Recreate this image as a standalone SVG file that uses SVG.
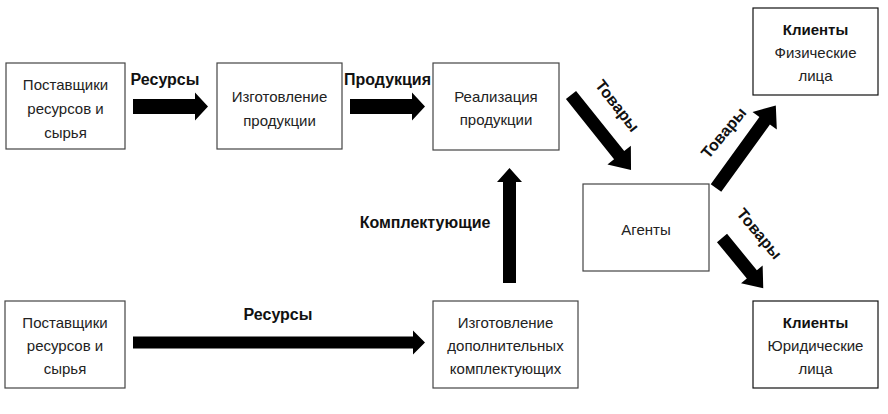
<svg xmlns="http://www.w3.org/2000/svg" width="888" height="414" viewBox="0 0 888 414">
<style>
.box{fill:#fff;stroke:#444;stroke-width:1.2}
.t{font-family:"Liberation Sans",Arial,sans-serif;font-size:15px;fill:#222;text-anchor:middle}
.b{font-family:"Liberation Sans",Arial,sans-serif;font-size:16px;font-weight:bold;fill:#111;text-anchor:middle}
.bb{font-weight:bold;fill:#111}
.ar{fill:#000}
</style>
<rect width="888" height="414" fill="#fff"/>
<g id="supplier1">
<rect class="box" x="6" y="63" width="119" height="86"/>
<text class="t" x="65.5" y="90">Поставщики</text>
<text class="t" x="65.5" y="114">ресурсов и</text>
<text class="t" x="65.5" y="138">сырья</text>
</g>
<g id="production">
<rect class="box" x="217" y="63" width="125" height="86"/>
<text class="t" x="279.5" y="102">Изготовление</text>
<text class="t" x="279.5" y="126">продукции</text>
</g>
<g id="sales">
<rect class="box" x="433" y="63" width="126" height="87"/>
<text class="t" x="496" y="102">Реализация</text>
<text class="t" x="496" y="125">продукции</text>
</g>
<g id="clients-phys">
<rect class="box" x="753" y="8" width="125" height="87" style="stroke:#111"/>
<text class="t bb" x="815.5" y="35">Клиенты</text>
<text class="t" x="815.5" y="58">Физические</text>
<text class="t" x="815.5" y="81">лица</text>
</g>
<g id="agents">
<rect class="box" x="583" y="184" width="126" height="87"/>
<text class="t" x="646" y="235">Агенты</text>
</g>
<g id="clients-jur">
<rect class="box" x="753" y="301" width="125" height="87" style="stroke:#111"/>
<text class="t bb" x="815.5" y="328">Клиенты</text>
<text class="t" x="815.5" y="351">Юридические</text>
<text class="t" x="815.5" y="374">лица</text>
</g>
<g id="supplier2">
<rect class="box" x="5" y="301" width="120" height="87"/>
<text class="t" x="65" y="328">Поставщики</text>
<text class="t" x="65" y="351">ресурсов и</text>
<text class="t" x="65" y="374">сырья</text>
</g>
<g id="components">
<rect class="box" x="433" y="301" width="145" height="87"/>
<text class="t" x="505.5" y="328">Изготовление</text>
<text class="t" x="505.5" y="351">дополнительных</text>
<text class="t" x="505.5" y="374">комплектующих</text>
</g>
<g id="connectors">
<polygon class="ar" transform="translate(133,106.5)" points="0,-7.5 62,-7.5 62,-14 75,0 62,14 62,7.5 0,7.5"/>
<polygon class="ar" transform="translate(350,106.5)" points="0,-7.5 62,-7.5 62,-14 75,0 62,14 62,7.5 0,7.5"/>
<polygon class="ar" transform="translate(133,342.5)" points="0,-6 280,-6 280,-12 292,0 280,12 280,6 0,6"/>
<polygon class="ar" transform="translate(509.5,283) rotate(-90)" points="0,-6.5 101,-6.5 101,-12.5 115,0 101,12.5 101,6.5 0,6.5"/>
<polygon class="ar" transform="translate(571,95) rotate(51.3)" points="0,-6.5 77,-6.5 77,-15 96,0 77,15 77,6.5 0,6.5"/>
<polygon class="ar" transform="translate(716,188) rotate(-54.1)" points="0,-6.5 83,-6.5 83,-15 102,0 83,15 83,6.5 0,6.5"/>
<polygon class="ar" transform="translate(722,238) rotate(50.6)" points="0,-6.5 47,-6.5 47,-14 65,0 47,14 47,6.5 0,6.5"/>
<text class="b" x="165" y="85">Ресурсы</text>
<text class="b" x="387.5" y="85">Продукция</text>
<text class="b" x="425" y="228">Комплектующие</text>
<text class="b" x="278" y="320">Ресурсы</text>
<text class="b" transform="translate(617,106) rotate(52)" y="5">Товары</text>
<text class="b" transform="translate(724,133) rotate(-50)" y="5">Товары</text>
<text class="b" transform="translate(759,234) rotate(50)" y="5">Товары</text>
</g>
</svg>
